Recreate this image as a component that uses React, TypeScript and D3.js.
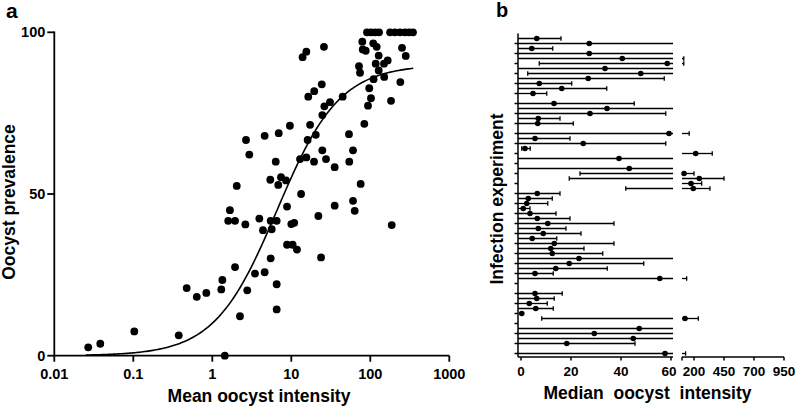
import React from "react";
import * as d3 from "d3";

// ---------- Panel a data ----------
const intensityA = [
  0.0269, 0.0382, 0.103, 0.376, 1.44, 0.474, 0.636, 0.84, 1.3, 1.34, 1.94, 2.24, 2.77, 3.47, 4.6, 5.48,
  6.53, 6.53, 8.83, 10.4, 11.8, 23.8, 1.59, 1.94, 1.67, 2.62, 3.94, 4.38, 5.48, 6.53, 5.65, 8.83, 10.0,
  10.9, 22.0, 35.4, 60.4, 63.5, 75.5, 186.6, 13.3, 2.04, 5.42, 6.84, 7.41, 8.57,
  79.2, 109, 120.5, 80.2, 87.5, 252, 281, 25.9, 15.5, 13.9, 127.7, 166, 149, 117, 127.7, 71.9, 74.1,
  150, 110, 240, 97, 102, 183, 93.5, 84, 24.3, 19.5, 16.4, 44.7, 30.9, 26.2, 24.7, 9.6, 17.3, 6.93,
  4.6, 2.67, 2.94, 16.1, 20.4, 53.7, 24.7, 60.4, 12.9, 15.5, 19.4, 27.5, 6.35, 54.2, 35.4,
  90.8, 102, 115, 129, 178, 205, 238, 275, 309, 347,
];
const prevalenceA = [
  2.6, 3.7, 7.5, 6.3, 0, 20.9, 18.2, 19.4, 20.5, 23.4, 27.4, 12.2, 20.2, 25.4, 25.8, 30.1,
  22.1, 14.3, 34.3, 34.3, 32.8, 30.4, 41.7, 41.7, 45.0, 40.6, 42.4, 38.8, 41.7, 41.7, 39.1, 46.1, 40.7,
  41.1, 43.2, 46.4, 47.9, 44.8, 53.1, 40.4, 50.0, 52.5, 54.4, 52.8, 55.2, 54.2,
  97.1, 96.6, 95.5, 94.7, 94.3, 95.2, 92.7, 95.5, 94.0, 92.3, 92.8, 91.3, 90.3, 90.3, 88.2, 89.5, 87.5,
  86.2, 85.5, 84.6, 82.7, 79.6, 78.8, 77.3, 71.7, 83.9, 81.8, 80.1, 80.1, 78.4, 77.1, 74.4, 71.1, 71.4, 68.8,
  68.0, 66.7, 62.2, 66.7, 68.3, 68.5, 63.5, 63.5, 60.8, 61.3, 60.0, 60.8, 60.0, 60.0, 58.3,
  100, 100, 100, 100, 100, 100, 100, 100, 100, 100,
];
const xTicksA = [0.01, 0.1, 1, 10, 100, 1000];
const xTickLabelsA = ["0.01", "0.1", "1", "10", "100", "1000"];
const yTicksA = [0, 50, 100];
// fitted dose-response curve parameters
const fitTop = 90;
const fitEC50 = 6.6;
const fitHill = 1.1;
const fitRange = [0.025, 350];

// ---------- Panel b data (one row per infection experiment, top to bottom) ----------
const medianB = [
  6.3, 27.3, 4.3, 27.3, 40.5, 58.5, 33.6, 47.9, 26.9, 7.3, 16.3, 4.8, null, 13.2, 34.4, 27.6,
  6.9, 6.7, null, 59.2, 5.6, 24.9, 1.6, 214, 39.2, null, 43.3, 117, 244, 175, 194, 6.5,
  2.9, 2.3, 0.9, 3.6, 6.5, 10.7, 6.9, 8.9, 4.5, 13.3, 11.9, 12.5, 23.2, 19.3, 13.9, 5.6,
  55.5, null, null, 5.6, 6.3, 3.3, 5.9, 0.3, 125, null, 47.3, 29.3, 44.9, 18.3, null, 57.6,
];
const lowerB = [
  0, 0, 0, 0, 0, 7.3, 0, 2.7, 0, 0, 0, 0, null, 0, 0, 0,
  0, 0, null, 0, 0, 0, 0.3, 80, 0, null, 0, 23.6, 19.3, 80, 41.9, 0,
  0, 0, 0, 0, 0, 0, 0, 0, 0, 0, 0, 0, 0, 0, 0, 0,
  0, null, null, 0, 0, 0, 0, 0.3, 8.3, null, 0, 0, 0, 0, null, 0,
];
const upperB = [
  16, 80, 12.7, 80, 115, 115, 80, 80, 57.3, 20.3, 34.3, 10.3, null, 45.3, 80, 57.9,
  15.6, 20.9, null, 160, 19.6, 57.9, 3.7, 352, 80, null, 80, 200, 450, 264, 333, 15.6,
  12.5, 10.7, 3.6, 14, 19.6, 37.2, 18, 24, 14.3, 37.2, 25.2, 32.7, 80, 49.1, 34.5, 12.9,
  139, null, null, 16.5, 13.3, 10.5, 12.9, 0.3, 236, null, 80, 80, 80, 45.6, null, 130,
];
const xTicksB1 = [0, 20, 40, 60];
const xTicksB2 = [200, 450, 700, 950];

const FONT = "'Liberation Sans', Arial, sans-serif";

export default function App() {
  // ---- panel a scales
  const xA = d3.scaleLog().domain([0.01, 1000]).range([54.3, 449.3]);
  const yA = d3.scaleLinear().domain([0, 100]).range([355.7, 32.3]);
  const curvePts = d3.range(0, 201).map((i) => {
    const lx = Math.log10(fitRange[0]) + (i / 200) * (Math.log10(fitRange[1]) - Math.log10(fitRange[0]));
    const x = Math.pow(10, lx);
    return [x, fitTop / (1 + Math.pow(fitEC50 / x, fitHill))] as [number, number];
  });
  const line = d3
    .line<[number, number]>()
    .x((d) => xA(d[0]))
    .y((d) => yA(d[1]));

  // ---- panel b scales
  const s1 = d3.scaleLinear().domain([-1.2, 60.8]).range([518, 673]);
  const s2 = d3.scaleLinear().domain([100, 950]).range([682, 784]);
  const rows = medianB.map((_, i) => i);
  const yB = d3.scalePoint<number>().domain(rows).range([38.5, 353.5]);
  const axisYB = 357;
  const seg1Max = s1.domain()[1];
  const seg2Min = s2.domain()[0];
  const cap = 2.2;

  const rowMarks = rows.map((i) => {
    const m = medianB[i];
    const lo = lowerB[i];
    const hi = upperB[i];
    if (m === null || lo === null || hi === null) return null;
    const y = yB(i)!;
    const els: React.ReactNode[] = [];
    // segment 1
    if (lo < seg1Max) {
      const x1 = lo <= 0 ? s1.range()[0] : s1(lo);
      const x2 = hi > seg1Max ? s1.range()[1] : s1(hi);
      if (x2 > x1) els.push(<line key="l1" x1={x1} x2={x2} y1={y} y2={y} />);
      if (lo > 0 && hi > lo) els.push(<line key="c1" x1={x1} x2={x1} y1={y - cap} y2={y + cap} />);
      if (hi <= seg1Max && hi > lo) els.push(<line key="c2" x1={x2} x2={x2} y1={y - cap} y2={y + cap} />);
    }
    // segment 2
    if (hi >= seg2Min) {
      const x1 = lo >= seg2Min ? s2(lo) : s2.range()[0];
      const x2 = s2(hi);
      els.push(<line key="l2" x1={x1} x2={x2} y1={y} y2={y} />);
      if (lo >= seg2Min) els.push(<line key="c3" x1={x1} x2={x1} y1={y - cap} y2={y + cap} />);
      els.push(<line key="c4" x1={x2} x2={x2} y1={y - cap} y2={y + cap} />);
    }
    const mx = m <= seg1Max ? s1(m) : m >= seg2Min ? s2(m) : null;
    if (mx !== null) els.push(<circle key="d" cx={mx} cy={y} r={2.8} fill="#000" stroke="none" />);
    return (
      <g key={i} stroke="#000" strokeWidth={1.3}>
        {els}
      </g>
    );
  });

  return (
    <svg
      width={797}
      height={408}
      style={{ position: "absolute", left: 0, top: 0, background: "#fff" }}
      fontFamily={FONT}
      fontWeight="bold"
    >
      {/* ================= Panel a ================= */}
      <text x={6} y={18} fontSize={21}>a</text>
      {/* axes */}
      <g stroke="#000" strokeWidth={1.8} fill="none">
        <line x1={xA.range()[0]} x2={xA.range()[0]} y1={yA(100) - 0.9} y2={yA(0)} />
        <line x1={xA.range()[0]} x2={xA.range()[1]} y1={yA(0)} y2={yA(0)} />
        {yTicksA.map((t) => (
          <line key={t} x1={xA.range()[0] - 7} x2={xA.range()[0]} y1={yA(t)} y2={yA(t)} />
        ))}
        {xTicksA.map((t) => (
          <line key={t} x1={xA(t)} x2={xA(t)} y1={yA(0)} y2={yA(0) + 6} />
        ))}
      </g>
      {yTicksA.map((t) => (
        <text key={t} x={xA.range()[0] - 9} y={yA(t) + 5} fontSize={14.5} textAnchor="end">
          {t}
        </text>
      ))}
      {xTicksA.map((t, i) => (
        <text key={t} x={xA(t)} y={378.5} fontSize={14.5} textAnchor="middle">
          {xTickLabelsA[i]}
        </text>
      ))}
      <text x={259} y={402} fontSize={17.5} textAnchor="middle">
        Mean oocyst intensity
      </text>
      <text transform="translate(15,202) rotate(-90)" fontSize={17.5} textAnchor="middle">
        Oocyst prevalence
      </text>
      {/* points */}
      <g fill="#000">
        {intensityA.map((v, i) => (
          <circle key={i} cx={xA(v)} cy={yA(prevalenceA[i])} r={3.9} />
        ))}
      </g>
      <path d={line(curvePts) || ""} fill="none" stroke="#000" strokeWidth={1.6} />

      {/* ================= Panel b ================= */}
      <text x={496} y={17} fontSize={20}>b</text>
      <g stroke="#000" strokeWidth={1.5} fill="none">
        <line x1={s1.range()[0]} x2={s1.range()[0]} y1={33.5} y2={axisYB} />
        {rows
          .filter((i) => i % 2 === 1)
          .map((i) => (
            <line key={i} x1={s1.range()[0] - 3.5} x2={s1.range()[0]} y1={yB(i)} y2={yB(i)} />
          ))}
        <line x1={s1.range()[0]} x2={s1.range()[1]} y1={axisYB} y2={axisYB} />
        {xTicksB1.map((t) => (
          <line key={t} x1={s1(t)} x2={s1(t)} y1={axisYB} y2={axisYB + 3.5} />
        ))}
        <line x1={s2.range()[0]} x2={s2.range()[1]} y1={axisYB} y2={axisYB} />
        <line x1={s2.range()[0]} x2={s2.range()[0]} y1={axisYB} y2={axisYB + 3.5} />
        {xTicksB2.map((t) => (
          <line key={t} x1={s2(t)} x2={s2(t)} y1={axisYB} y2={axisYB + 3.5} />
        ))}
      </g>
      {rowMarks}
      {xTicksB1.map((t) => (
        <text key={t} x={t === 60 ? s1(t) - 2 : s1(t)} y={376} fontSize={13.5} textAnchor="middle">
          {t}
        </text>
      ))}
      {xTicksB2.map((t) => (
        <text key={t} x={s2(t)} y={376} fontSize={13.5} textAnchor="middle">
          {t}
        </text>
      ))}
      <text x={647.5} y={399} fontSize={17.5} textAnchor="middle" style={{ whiteSpace: "pre" }}>
        {"Median  oocyst  intensity"}
      </text>
      <text transform="translate(503,199) rotate(-90)" fontSize={17.5} textAnchor="middle">
        Infection experiment
      </text>
    </svg>
  );
}
